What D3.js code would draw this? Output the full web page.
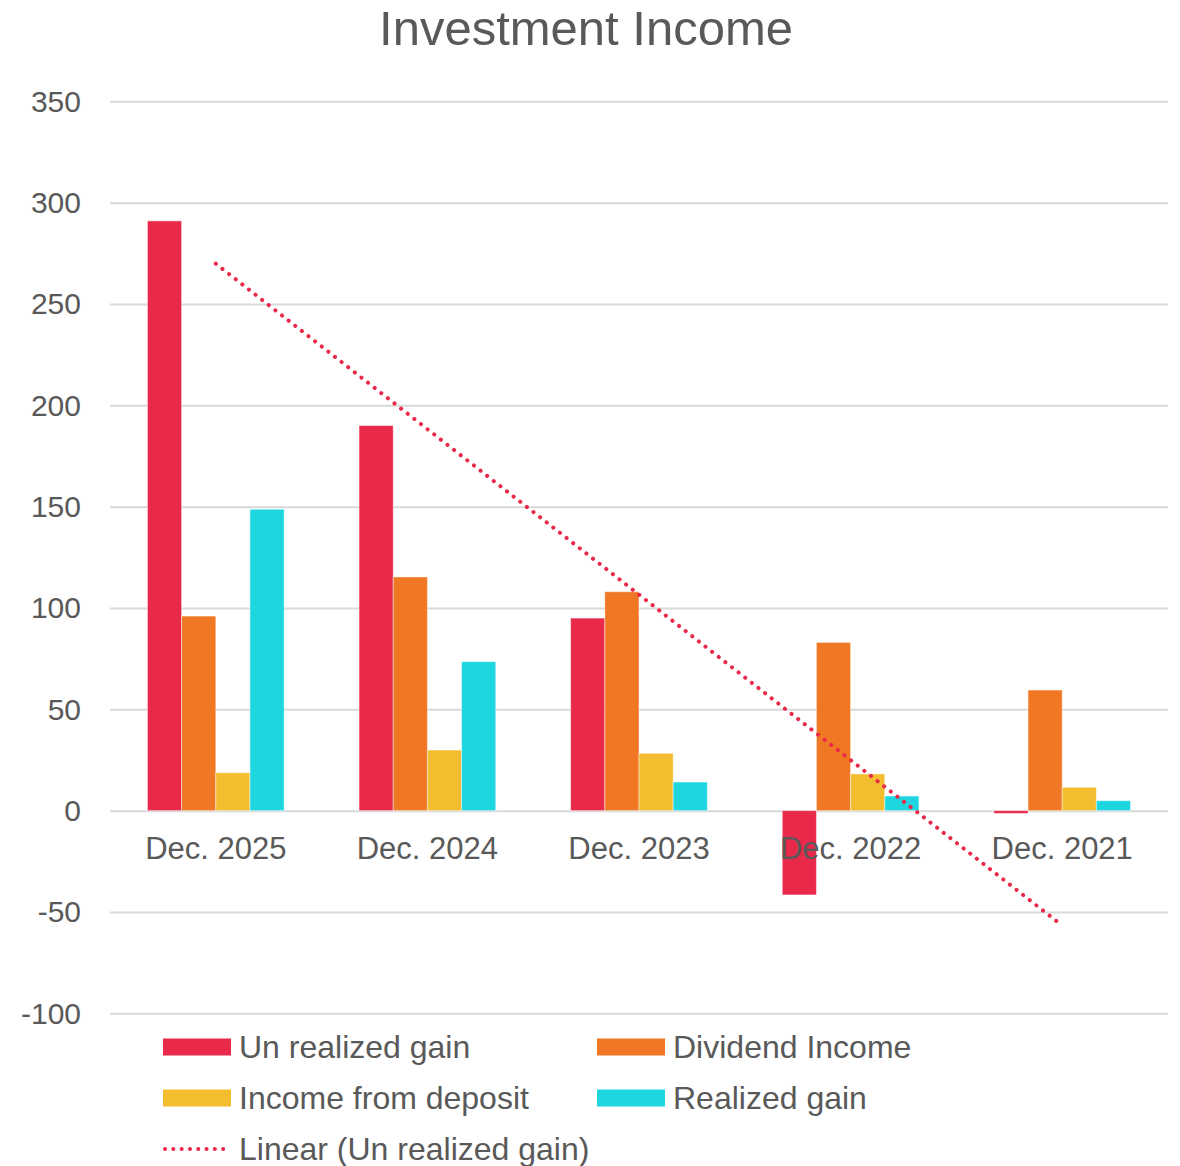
<!DOCTYPE html>
<html>
<head>
<meta charset="utf-8">
<script src="https://cdn.jsdelivr.net/npm/d3@7"></script>
<style>
  html, body { margin: 0; padding: 0; background: #ffffff; }
  svg { display: block; font-family: "Liberation Sans", Arial, sans-serif; }
</style>
</head>
<body>
<svg id="chart" width="1180" height="1166"></svg>
<script>
// ---- data ----
const categories = ["Dec. 2025", "Dec. 2024", "Dec. 2023", "Dec. 2022", "Dec. 2021"];
const seriesNames = ["Un realized gain", "Dividend Income", "Income from deposit", "Realized gain"];
const unrealizedGain = [291, 190, 95, -41.6, -1.4];
const dividendIncome = [96, 115.3, 108, 83, 59.5];
const incomeFromDeposit = [18.7, 29.9, 28.3, 18.1, 11.5];
const realizedGain = [148.7, 73.5, 14.1, 7.2, 4.9];
const yTicks = [-100, -50, 0, 50, 100, 150, 200, 250, 300, 350];
const trendLabel = "Linear (Un realized gain)";
const colors = ["#E8294A", "#F07723", "#F4BD30", "#1ED6E0"];

const seriesValues = [unrealizedGain, dividendIncome, incomeFromDeposit, realizedGain];

// ---- layout ----
const svg = d3.select("#chart");
const textColor = "#595959";
const plot = { left: 110, right: 1168, top: 101.3, bottom: 1013.3 };

const x0 = d3.scaleBand().domain(categories).range([plot.left, plot.right]).paddingInner(0).paddingOuter(0);
const groupFrac = 0.646;
const x1 = d3.scaleBand().domain(seriesNames)
  .range([0, x0.bandwidth() * groupFrac]);
const groupOffset = (x0.bandwidth() * (1 - groupFrac)) / 2;

const y = d3.scaleLinear().domain([-100, 350]).range([plot.bottom, plot.top]);

// title
svg.append("text")
  .attr("x", 586).attr("y", 45)
  .attr("text-anchor", "middle")
  .attr("font-size", 49)
  .attr("fill", textColor)
  .text("Investment Income");

// gridlines
const yAxis = d3.axisLeft(y).tickValues(yTicks).tickSize(-(plot.right - plot.left))
  .tickFormat(d => String(d)).tickPadding(29);
const gAxis = svg.append("g").attr("transform", `translate(${plot.left},0)`).call(yAxis);
gAxis.select(".domain").remove();
gAxis.selectAll(".tick line").attr("stroke", "#d9d9d9").attr("stroke-width", 2);
gAxis.selectAll(".tick text").attr("fill", textColor).attr("font-size", 30)
  .attr("font-family", "'Liberation Sans', Arial, sans-serif").attr("dy", "0.33em");

// bars
const groups = svg.append("g").selectAll("g")
  .data(categories)
  .join("g")
  .attr("transform", d => `translate(${x0(d) + groupOffset},0)`);

groups.selectAll("rect")
  .data((c, ci) => seriesNames.map((s, si) => ({ s, si, v: seriesValues[si][ci] })))
  .join("rect")
  .attr("x", d => x1(d.s))
  .attr("width", x1.bandwidth())
  .attr("y", d => y(Math.max(0, d.v)))
  .attr("height", d => Math.abs(y(d.v) - y(0)))
  .attr("fill", d => colors[d.si])
  .attr("stroke", "rgba(255,255,255,0.45)")
  .attr("stroke-width", 1);

// category labels
svg.append("g").selectAll("text")
  .data(categories)
  .join("text")
  .attr("x", d => x0(d) + x0.bandwidth() / 2)
  .attr("y", 859)
  .attr("text-anchor", "middle")
  .attr("font-size", 31)
  .attr("fill", textColor)
  .text(d => d);

// linear trendline (least squares on Un realized gain)
const xs = unrealizedGain.map((_, i) => i + 1);
const n = xs.length;
const mx = d3.mean(xs), my = d3.mean(unrealizedGain);
const slope = d3.sum(xs.map((xv, i) => (xv - mx) * (unrealizedGain[i] - my))) / d3.sum(xs.map(xv => (xv - mx) ** 2));
const intercept = my - slope * mx;
const trendPts = [1, n].map(xv => [x0(categories[xv - 1]) + x0.bandwidth() / 2, y(intercept + slope * xv)]);
svg.append("path")
  .attr("d", d3.line()(trendPts))
  .attr("fill", "none")
  .attr("stroke", colors[0])
  .attr("stroke-width", 4)
  .attr("stroke-linecap", "round")
  .attr("stroke-dasharray", "0.1 8.3");

// legend
const legendItems = [
  { label: seriesNames[0], color: colors[0], x: 163, y: 1047, type: "rect" },
  { label: seriesNames[1], color: colors[1], x: 597, y: 1047, type: "rect" },
  { label: seriesNames[2], color: colors[2], x: 163, y: 1098, type: "rect" },
  { label: seriesNames[3], color: colors[3], x: 597, y: 1098, type: "rect" },
  { label: trendLabel, color: colors[0], x: 163, y: 1149, type: "line" }
];
const lg = svg.append("g").selectAll("g").data(legendItems).join("g")
  .attr("transform", d => `translate(${d.x},${d.y})`);
lg.filter(d => d.type === "rect").append("rect")
  .attr("x", 0).attr("y", -8.5).attr("width", 68).attr("height", 17)
  .attr("fill", d => d.color);
lg.filter(d => d.type === "line").append("line")
  .attr("x1", 2).attr("x2", 68).attr("y1", 0).attr("y2", 0)
  .attr("stroke", d => d.color).attr("stroke-width", 4)
  .attr("stroke-linecap", "round").attr("stroke-dasharray", "0.1 8.2");
lg.append("text")
  .attr("x", 76).attr("y", 0).attr("dy", "0.35em")
  .attr("font-size", 32).attr("fill", textColor)
  .text(d => d.label);
</script>
</body>
</html>
